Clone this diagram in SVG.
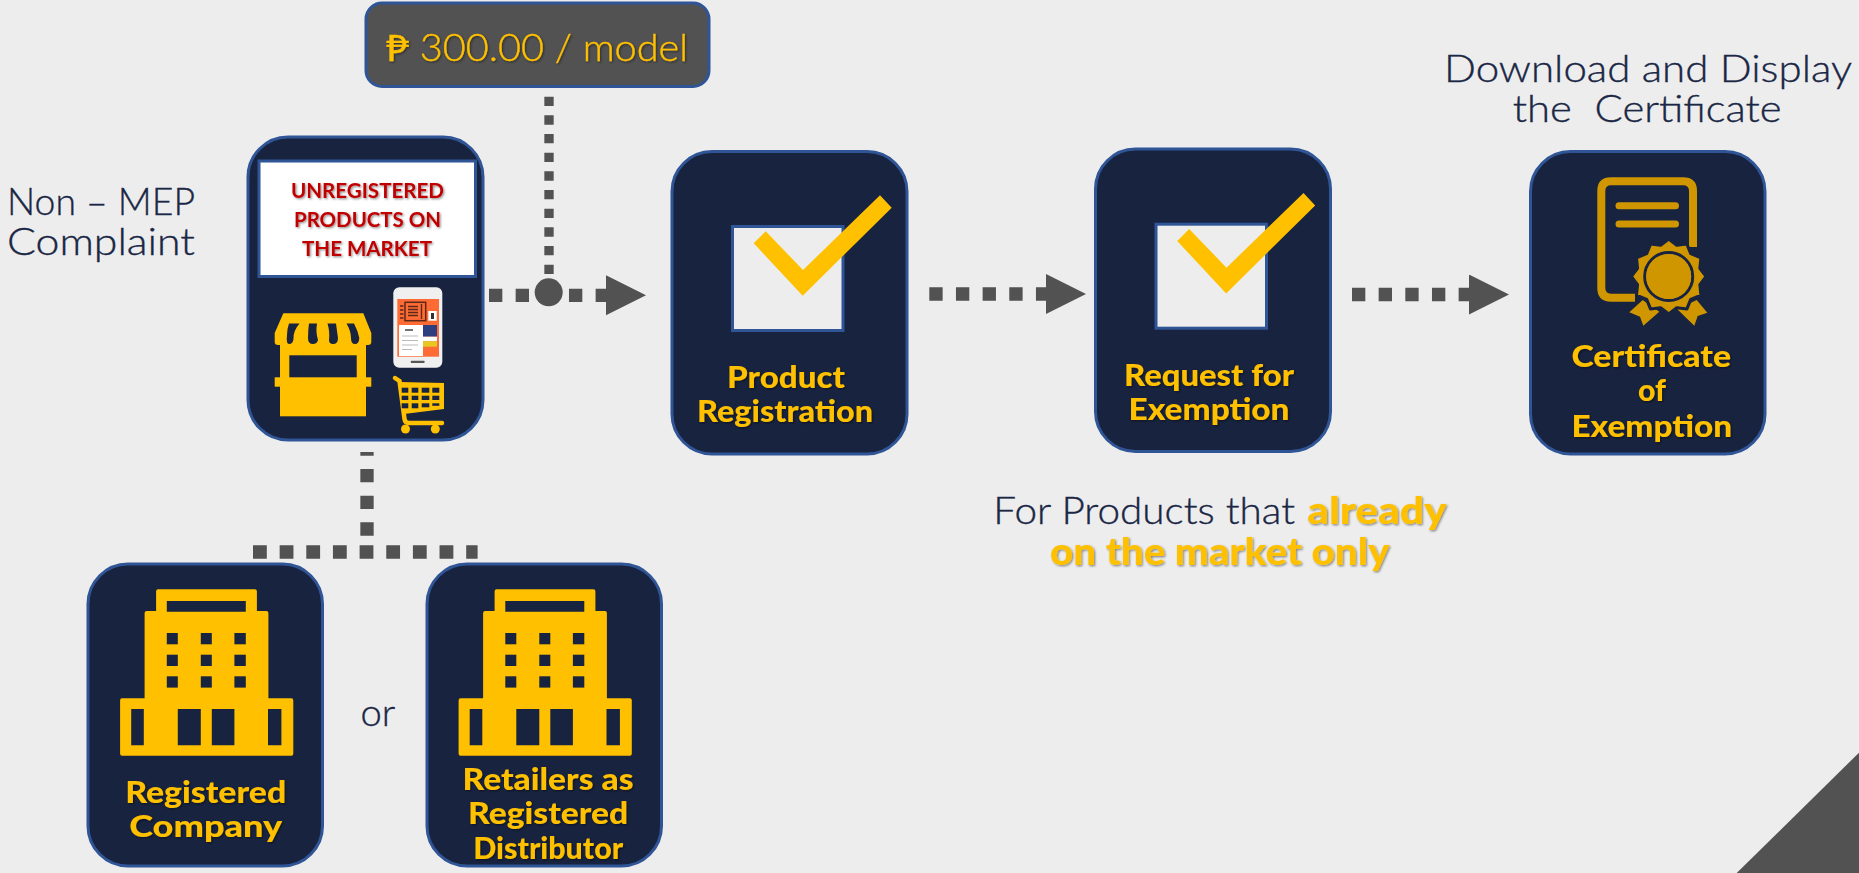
<svg xmlns="http://www.w3.org/2000/svg" xmlns:xlink="http://www.w3.org/1999/xlink" width="1859" height="873" viewBox="0 0 1859 873">
<style>
.card{fill:#18233F;stroke:#2F5597;stroke-width:3}
.y{fill:#FFC000}
.dk{fill:#18233F}
.lbl{font-family:"Lato","Open Sans","DejaVu Sans",sans-serif;font-weight:900;font-size:31px;fill:#FFC000;filter:url(#sh)}
.thin{font-family:"Lato","Open Sans","DejaVu Sans",sans-serif;font-weight:300;font-size:37px;fill:#1A2745;stroke:#1A2745;stroke-width:.35}
.red{font-family:"Lato","Open Sans",sans-serif;font-weight:700;font-size:21px;fill:#C00000;filter:url(#sh)}
.dash{fill:none;stroke:#525252;stroke-width:13.33;stroke-dasharray:13.33 13.33}
.box{fill:#EDEDED;stroke:#2F5597;stroke-width:3}
.gold{fill:#D09600}
</style>
<defs>
<filter id="sh" x="-5%" y="-20%" width="115%" height="150%"><feDropShadow dx="1.2" dy="1.2" stdDeviation="0.8" flood-color="#000" flood-opacity="0.45"/></filter>
<marker id="arrow" markerUnits="userSpaceOnUse" markerWidth="41" markerHeight="42" refX="0" refY="20" orient="auto"><polygon points="0,0 40,20 0,40" fill="#525252"/></marker>
<g id="building">
<path class="y" fill-rule="evenodd" d="M158.100 589.300H254.900a2 2 0 0 1 2 2V611H266.400a2 2 0 0 1 2 2V698.300H291.300a2 2 0 0 1 2 2V753.700a2 2 0 0 1-2 2H122.100a2 2 0 0 1-2-2V700.300a2 2 0 0 1 2-2H144.600V613a2 2 0 0 1 2-2H156.100V591.300a2 2 0 0 1 2-2ZM166.800 601V611.700H245.800V601ZM131.200 709V745.300H143.800V709ZM177.800 709V745.300H200.800V709ZM211.800 709V745.300H234.400V709ZM268 709V745.300H281.400V709Z"/>
<g class="dk">
<rect x="166.800" y="633" width="11" height="11.300"/><rect x="200.800" y="633" width="11" height="11.300"/><rect x="234.400" y="633" width="11.400" height="11.300"/>
<rect x="166.800" y="654.700" width="11" height="11.300"/><rect x="200.800" y="654.700" width="11" height="11.300"/><rect x="234.400" y="654.700" width="11.400" height="11.300"/>
<rect x="166.800" y="676.300" width="11" height="11.300"/><rect x="200.800" y="676.300" width="11" height="11.300"/><rect x="234.400" y="676.300" width="11.400" height="11.300"/>
</g>
</g>
<g id="check">
<rect class="box" x="732.500" y="226.500" width="110.500" height="104"/>
<polygon class="y" points="753.700,243.300 765.700,231.300 803,270 880,195.300 891.700,207.700 802.700,295.700"/>
</g>
</defs>
<rect width="1859" height="873" fill="#EDEDED"/>
<polygon id="corner" points="1859,752.700 1859,873 1736.700,873" fill="#525252"/>

<g id="connectors">
<line class="dash" x1="549" y1="96.700" x2="549" y2="280" style="stroke-width:9.330;stroke-dasharray:9.330 9.330"/>
<line class="dash" x1="489" y1="295.300" x2="606" y2="295.300" marker-end="url(#arrow)"/>
<circle cx="548.700" cy="292.300" r="14" fill="#525252"/>
<line class="dash" x1="929.300" y1="294" x2="1046" y2="294" marker-end="url(#arrow)"/>
<line class="dash" x1="1352" y1="294.500" x2="1469" y2="294.500" marker-end="url(#arrow)"/>
<line class="dash" x1="367" y1="452" x2="367" y2="536" style="stroke-dashoffset:9.630"/>
<line class="dash" x1="253" y1="552" x2="477.600" y2="552" style="stroke-dasharray:13.800 12.850"/>
</g>

<g id="fee">
<rect x="366" y="3" width="343" height="83.500" rx="16" fill="#525252" stroke="#2F5597" stroke-width="3"/>
<text x="386" y="61" class="thin" style="fill:#FFC000;stroke:#FFC000;filter:url(#sh)" textLength="302" lengthAdjust="spacingAndGlyphs"><tspan font-weight="400">₱</tspan> 300.00 / model</text>
</g>

<g id="non-mep-label">
<text x="7" y="215" class="thin" textLength="188" lengthAdjust="spacingAndGlyphs">Non – MEP</text>
<text x="7" y="255" class="thin" textLength="188" lengthAdjust="spacingAndGlyphs">Complaint</text>
</g>

<g id="node-unregistered">
<rect class="card" x="248" y="137" width="235" height="303" rx="40"/>
<rect x="259" y="161" width="216.500" height="115.500" fill="#fff" stroke="#2F5597" stroke-width="3"/>
<text x="291" y="198" class="red" textLength="153" lengthAdjust="spacingAndGlyphs">UNREGISTERED</text>
<text x="294" y="227" class="red" textLength="147" lengthAdjust="spacingAndGlyphs">PRODUCTS ON</text>
<text x="302" y="256" class="red" textLength="130" lengthAdjust="spacingAndGlyphs">THE MARKET</text>
<g id="shop">
<path class="y" d="M283.300 313.300H363.300L371.300 333V342Q371.300 345 368 345H278Q274.700 345 274.700 342V333Z"/>
<rect class="y" x="280" y="344" width="86" height="72.300"/>
<rect class="y" x="274.700" y="377.300" width="96.600" height="9.400"/>
<rect class="dk" x="289.300" y="355.300" width="67.400" height="22"/>
<g class="dk">
<path d="M289 323.500H299.500Q293 331 293.500 339Q293 344 289 344Q286 344 287 335Q287 329 289 323.500Z"/>
<path d="M309 323.500H317Q315.500 332 318 340Q317 344 313 344Q308 344 308 338Q308 330 309 323.500Z"/>
<path d="M327.500 323.500H336Q337 331 338 338Q338 344 333 344Q329 344 329 340Q330 332 327.500 323.500Z"/>
<path d="M346.500 323.500H354Q358 331 359.300 338Q359 344 355 344Q351 344 351 338Q351 331 346.500 323.500Z"/>
</g>
</g>
<g id="phone">
<rect x="393.300" y="287.300" width="49" height="80.400" rx="6" fill="#F0F0F0"/>
<rect x="397.300" y="299" width="41.700" height="57.700" fill="#FF6B35"/>
<rect x="405" y="302.300" width="20.700" height="18.400" fill="none" stroke="#5A2A18" stroke-width="1.500"/>
<path d="M408 306.500H418M408 309.500H418M408 312.500H418M408 315.500H418M421.500 304V319M400 306H403.500M400 310H403.500M400 314H403.500M400 318H403.500" stroke="#5A2A18" stroke-width="1.400"/>
<rect x="428.300" y="311" width="8.400" height="9.700" fill="#fff"/>
<rect x="431" y="313" width="3" height="6" fill="#333"/>
<rect x="399" y="325" width="24" height="31" fill="#fff"/>
<path d="M402 336H418M402 340.500H418M402 345H418M402 349.500H412" stroke="#BBBBBB" stroke-width="1"/>
<path d="M405 330H413" stroke="#444" stroke-width="1.500"/>
<rect x="423" y="325" width="14" height="11.700" fill="#2F3E7F"/>
<rect x="423" y="336.700" width="14" height="4.600" fill="#fff"/>
<rect x="423" y="341.300" width="14" height="5.400" fill="#E8C820"/>
<rect x="410.700" y="360.700" width="14" height="2.200" rx="1" fill="#555"/>
</g>
<g id="cart">
<path d="M395 378L399.500 381L404.500 419Q405 423 409 423H442" fill="none" stroke="#FFC000" stroke-width="4.500" stroke-linecap="round"/>
<polygon class="y" points="400,382 444,383 444,409 404,414"/>
<g class="dk">
<rect x="401.700" y="387.700" width="6.600" height="5"/><rect x="411.700" y="387.700" width="6.600" height="5"/><rect x="421.700" y="387.700" width="7.600" height="5"/><rect x="432.300" y="387.700" width="7" height="5"/>
<rect x="401.700" y="395.700" width="6.600" height="4.300"/><rect x="411.700" y="395.700" width="6.600" height="4.300"/><rect x="421.700" y="395.700" width="7.600" height="4.300"/><rect x="432.300" y="395.700" width="7" height="4.300"/>
<rect x="401.700" y="403.300" width="6.600" height="5"/><rect x="411.700" y="403.300" width="6.600" height="5"/><rect x="421.700" y="403.300" width="7.600" height="4"/><rect x="432.300" y="403.300" width="7" height="2.500"/>
</g>
<circle class="y" cx="405.500" cy="429" r="4.500"/><circle class="y" cx="435.300" cy="429" r="4.500"/>
</g>
</g>

<g id="node-product-registration">
<rect class="card" x="672" y="151.500" width="235" height="302.500" rx="40"/>
<use xlink:href="#check" href="#check"/>
<text x="727" y="387.500" class="lbl" textLength="118" lengthAdjust="spacingAndGlyphs">Product</text>
<text x="697" y="421.500" class="lbl" textLength="176" lengthAdjust="spacingAndGlyphs">Registration</text>
</g>

<g id="node-request-exemption">
<rect class="card" x="1095.500" y="149" width="235" height="302.500" rx="40"/>
<use xlink:href="#check" href="#check" transform="translate(423.500 -2.300)"/>
<text x="1124" y="386" class="lbl" textLength="170" lengthAdjust="spacingAndGlyphs">Request for</text>
<text x="1128.500" y="420" class="lbl" textLength="161" lengthAdjust="spacingAndGlyphs">Exemption</text>
</g>

<g id="node-certificate">
<rect class="card" x="1530.500" y="151.500" width="234.500" height="302.500" rx="40"/>
<path d="M1635 297.700H1611Q1601.300 297.700 1601.300 288V191Q1601.300 181.300 1611 181.300H1683Q1693 181.300 1693 191V247" fill="none" stroke="#D09600" stroke-width="8"/>
<path d="M1619 205.700H1675.500M1619 224H1675.500" fill="none" stroke="#D09600" stroke-width="7" stroke-linecap="round"/>
<polygon class="gold" points="1629.300,312.300 1642.700,300 1659.300,311.700 1643.300,325.700 1640,316.700"/>
<polygon class="gold" points="1707.300,312.700 1696.700,300 1677.300,309.300 1694.300,325.700 1697.700,316"/>
<g transform="translate(1668.700 276.500)">
<polygon class="gold" transform="scale(1.04)" stroke="#18233F" stroke-width="3" stroke-linejoin="round" points="0,-36 7.800,-30 17.500,-31.200 21.200,-22 31,-18 30,-7.800 36,0 30,7.800 31,18 21.200,22 17.500,31.200 7.800,30 0,36 -7.800,30 -17.500,31.200 -21.200,22 -31,18 -30,7.800 -36,0 -30,-7.800 -31,-18 -21.200,-22 -17.500,-31.200 -7.800,-30"/>
<circle r="24" fill="none" stroke="#18233F" stroke-width="3"/>
<circle r="22.500" class="gold"/>
</g>
<text x="1571.500" y="366.700" class="lbl" textLength="159.500" lengthAdjust="spacingAndGlyphs">Certificate</text>
<text x="1638" y="401" class="lbl" textLength="28" lengthAdjust="spacingAndGlyphs">of</text>
<text x="1571.500" y="436.700" class="lbl" textLength="160.500" lengthAdjust="spacingAndGlyphs">Exemption</text>
</g>

<g id="download-label">
<text x="1444" y="81.700" class="thin" textLength="408" lengthAdjust="spacingAndGlyphs">Download and Display</text>
<text x="1512.700" y="121.700" class="thin" textLength="269" lengthAdjust="spacingAndGlyphs" xml:space="preserve">the  Certificate</text>
</g>

<g id="market-label">
<text x="993.300" y="524" class="thin" textLength="301.700" lengthAdjust="spacingAndGlyphs">For Products that</text>
<text x="1307.300" y="524" class="lbl" style="font-size:37px" textLength="139.400" lengthAdjust="spacingAndGlyphs">already</text>
<text x="1050" y="565" class="lbl" style="font-size:37px" textLength="339.300" lengthAdjust="spacingAndGlyphs">on the market only</text>
</g>

<g id="node-registered-company">
<rect class="card" x="88" y="564" width="234.500" height="302" rx="40"/>
<use xlink:href="#building" href="#building"/>
<text x="125.200" y="802.700" class="lbl" textLength="161" lengthAdjust="spacingAndGlyphs">Registered</text>
<text x="129.200" y="836.700" class="lbl" textLength="153" lengthAdjust="spacingAndGlyphs">Company</text>
</g>

<g id="or-label"><text x="360.500" y="726" class="thin" textLength="34.800" lengthAdjust="spacingAndGlyphs">or</text></g>

<g id="node-retailers">
<rect class="card" x="427" y="564" width="234.500" height="302" rx="40"/>
<use xlink:href="#building" href="#building" transform="translate(338.500 0)"/>
<text x="462.500" y="790" class="lbl" textLength="171" lengthAdjust="spacingAndGlyphs">Retailers as</text>
<text x="468.100" y="824.300" class="lbl" textLength="160" lengthAdjust="spacingAndGlyphs">Registered</text>
<text x="473.200" y="859.300" class="lbl" textLength="150" lengthAdjust="spacingAndGlyphs">Distributor</text>
</g>
</svg>
